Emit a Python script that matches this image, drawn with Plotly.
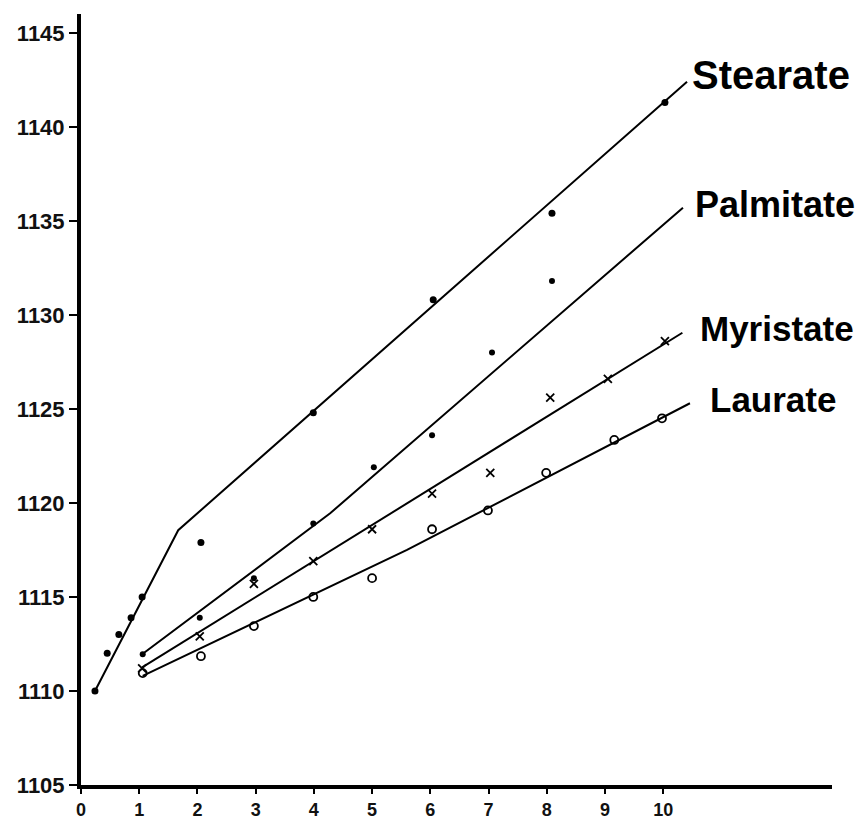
import plotly.graph_objects as go

# ---- data ----
stearate_x = [0.24, 0.45, 0.65, 0.86, 1.05, 2.06, 3.99, 6.05, 8.09, 10.03]
stearate_y = [1110.0, 1112.0, 1113.0, 1113.9, 1115.0, 1117.9, 1124.8, 1130.8, 1135.4, 1141.3]

palmitate_x = [1.06, 2.04, 2.97, 3.99, 5.03, 6.03, 7.06, 8.09]
palmitate_y = [1111.95, 1113.9, 1116.0, 1118.9, 1121.9, 1123.6, 1128.0, 1131.8]

myristate_x = [1.05, 2.04, 2.97, 3.99, 5.00, 6.03, 7.03, 8.06, 9.05, 10.03]
myristate_y = [1111.2, 1112.9, 1115.7, 1116.9, 1118.6, 1120.5, 1121.6, 1125.6, 1126.6, 1128.6]

laurate_x = [1.06, 2.06, 2.97, 3.99, 5.00, 6.03, 6.99, 7.99, 9.16, 9.98]
laurate_y = [1110.95, 1111.85, 1113.45, 1115.0, 1116.0, 1118.6, 1119.6, 1121.6, 1123.35, 1124.5]

# drawn trend lines (vertices)
stearate_fit_x = [0.24, 1.67, 10.41]
stearate_fit_y = [1110.0, 1118.55, 1142.4]
palmitate_fit_x = [1.05, 4.28, 10.34]
palmitate_fit_y = [1111.95, 1119.45, 1135.7]
myristate_fit_x = [1.05, 10.33]
myristate_fit_y = [1111.25, 1129.05]
laurate_fit_x = [1.06, 5.60, 10.46]
laurate_fit_y = [1110.8, 1117.5, 1125.3]

series_names = ["Stearate", "Palmitate", "Myristate", "Laurate"]
label_x = [10.46, 10.52, 10.60, 10.77]
label_y = [1142.75, 1135.85, 1129.3, 1125.5]
label_size = [40, 36, 35, 35]

x_ticks = [0, 1, 2, 3, 4, 5, 6, 7, 8, 9, 10]
y_ticks = [1105, 1110, 1115, 1120, 1125, 1130, 1135, 1140, 1145]

fig = go.Figure()

line_style = dict(color="black", width=2)
for fx, fy in [(stearate_fit_x, stearate_fit_y), (palmitate_fit_x, palmitate_fit_y),
               (myristate_fit_x, myristate_fit_y), (laurate_fit_x, laurate_fit_y)]:
    fig.add_trace(go.Scatter(x=fx, y=fy, mode="lines", line=line_style,
                             showlegend=False, hoverinfo="skip"))

fig.add_trace(go.Scatter(x=stearate_x, y=stearate_y, mode="markers", name="Stearate",
                         marker=dict(symbol="circle", size=7, color="black")))
fig.add_trace(go.Scatter(x=palmitate_x, y=palmitate_y, mode="markers", name="Palmitate",
                         marker=dict(symbol="circle", size=6, color="black")))
fig.add_trace(go.Scatter(x=myristate_x, y=myristate_y, mode="markers", name="Myristate",
                         marker=dict(symbol="x-thin", size=8, color="black",
                                     line=dict(color="black", width=1.8))))
fig.add_trace(go.Scatter(x=laurate_x, y=laurate_y, mode="markers", name="Laurate",
                         marker=dict(symbol="circle-open", size=8, color="black",
                                     line=dict(color="black", width=1.8))))

for name, lx, ly, ls in zip(series_names, label_x, label_y, label_size):
    fig.add_annotation(x=lx, y=ly, xref="x", yref="y", text="<b>" + name + "</b>",
                       showarrow=False, xanchor="left", yanchor="middle",
                       font=dict(family="Arial, Liberation Sans, sans-serif", size=ls, color="black"))

# page has an 8px body margin, so the figure is sized to fit the 863x820 window
fig.update_layout(
    width=855, height=812, autosize=False,
    margin=dict(l=73, r=31, t=6, b=35),
    paper_bgcolor="white", plot_bgcolor="white",
    showlegend=False,
    font=dict(family="Arial, Liberation Sans, sans-serif", color="#111"),
)
fig.update_xaxes(range=[0, 12.9], tickvals=x_ticks, ticktext=["<b>%d</b>" % v for v in x_ticks],
                 ticks="outside", ticklen=5, tickwidth=2, tickcolor="black",
                 showline=True, linewidth=4, linecolor="black", automargin=False,
                 showgrid=False, zeroline=False, tickfont=dict(size=18),
                 ticklabelstandoff=0)
fig.update_yaxes(range=[1105, 1146], tickvals=y_ticks, ticktext=["<b>%d</b>" % v for v in y_ticks],
                 ticks="outside", ticklen=8, tickwidth=2, tickcolor="black",
                 showline=True, linewidth=4, linecolor="black", automargin=False,
                 showgrid=False, zeroline=False, tickfont=dict(size=22),
                 ticklabelstandoff=0)

fig.write_html("out.html")
